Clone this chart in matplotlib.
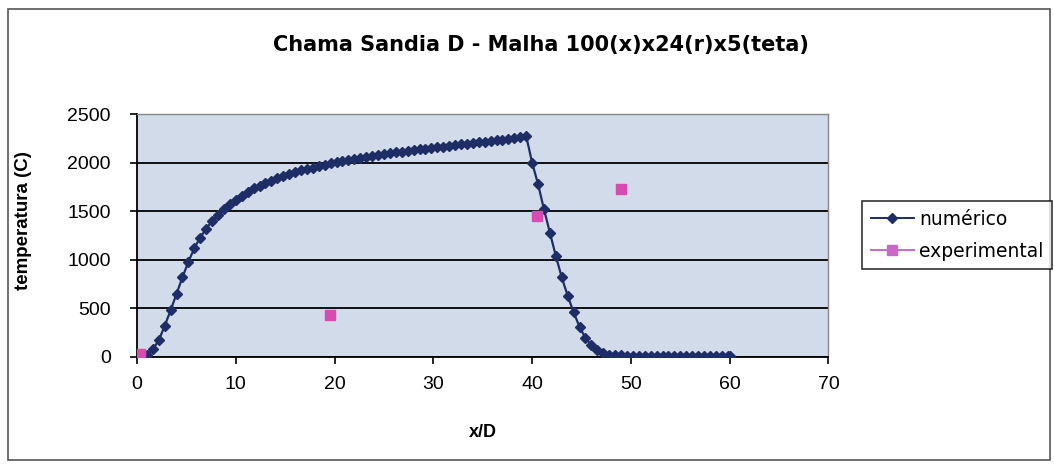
import matplotlib.pyplot as plt
from matplotlib.patches import Rectangle

# numerical solution along the axis (100 cells in x)
x_num = [1.0, 1.6, 2.2, 2.8, 3.4, 4.0, 4.6, 5.2, 5.8, 6.4,
         7.0, 7.6, 8.2, 8.8, 9.4, 10.0, 10.6, 11.2, 11.8, 12.4,
         13.0, 13.6, 14.2, 14.8, 15.4, 16.0, 16.6, 17.2, 17.8, 18.4,
         19.0, 19.6, 20.2, 20.8, 21.4, 22.0, 22.6, 23.2, 23.8, 24.4,
         25.0, 25.6, 26.2, 26.8, 27.4, 28.0, 28.6, 29.2, 29.8, 30.4,
         31.0, 31.6, 32.2, 32.8, 33.4, 34.0, 34.6, 35.2, 35.8, 36.4,
         37.0, 37.6, 38.2, 38.8, 39.4, 40.0, 40.6, 41.2, 41.8, 42.4,
         43.0, 43.6, 44.2, 44.8, 45.4, 46.0, 46.6, 47.2, 47.8, 48.4,
         49.0, 49.6, 50.2, 50.8, 51.4, 52.0, 52.6, 53.2, 53.8, 54.4,
         55.0, 55.6, 56.2, 56.8, 57.4, 58.0, 58.6, 59.2, 59.8, 60.0]
t_num = [20, 80, 170, 320, 480, 650, 820, 980, 1120, 1230,
         1320, 1400, 1460, 1520, 1570, 1620, 1660, 1700, 1735, 1765,
         1790, 1815, 1840, 1860, 1880, 1900, 1920, 1935, 1950, 1965,
         1980, 1995, 2005, 2015, 2027, 2038, 2050, 2060, 2070, 2080,
         2090, 2098, 2106, 2114, 2122, 2130, 2138, 2145, 2152, 2160,
         2167, 2174, 2181, 2188, 2195, 2202, 2209, 2216, 2223, 2230,
         2238, 2246, 2255, 2265, 2275, 2000, 1780, 1520, 1280, 1040,
         820, 630, 460, 310, 195, 120, 70, 40, 25, 18,
         15, 14, 13, 12, 12, 11, 11, 11, 10, 10,
         10, 10, 10, 10, 10, 10, 10, 10, 10, 10]

# measurements
x_exp = [0.3, 19.5, 40.5, 49.0]
t_exp = [30, 430, 1450, 1730]

xticks = [0, 10, 20, 30, 40, 50, 60, 70]
yticks = [0, 500, 1000, 1500, 2000, 2500]

plt.rcParams['font.family'] = ['Liberation Sans', 'DejaVu Sans']

fig = plt.figure(figsize=(10.54, 4.66), dpi=100)
fig.patch.set_facecolor('white')
fig.patches.append(Rectangle((0.008, 0.012), 0.988, 0.968, transform=fig.transFigure,
                             fill=False, edgecolor='#555555', linewidth=1.2))

ax = fig.add_axes([0.13, 0.234, 0.656, 0.521])
ax.set_facecolor('#d2dbea')

ax.plot(x_num, t_num, color='#1f2d66', linewidth=1.6, marker='D', markersize=5.5,
        zorder=3)
ax.plot(x_exp, t_exp, color='#d84bb0', linestyle='none', marker='s', markersize=6.5,
        zorder=4)

ax.set_xlim(0, 70)
ax.set_ylim(0, 2500)
ax.set_xticks(xticks)
ax.set_yticks(yticks)
ax.yaxis.grid(True, color='black', linewidth=1.3)
ax.set_axisbelow(True)

for side in ['top', 'right']:
    ax.spines[side].set_color('#888888')
    ax.spines[side].set_linewidth(1.0)
for side in ['left', 'bottom']:
    ax.spines[side].set_color('black')
    ax.spines[side].set_linewidth(1.3)

ax.tick_params(direction='out', length=5, width=1.2, labelsize=14, colors='black')
ax.tick_params(axis='y', pad=14)
ax.tick_params(axis='x', pad=9)

fig.suptitle('Chama Sandia D - Malha 100(x)x24(r)x5(teta)', x=0.513, y=0.925,
             fontsize=15, fontweight='bold', family=['DejaVu Sans'])
ax.set_xlabel('x/D', fontsize=13, fontweight='bold', labelpad=22)
ax.set_ylabel('temperatura (C)', fontsize=13.5, fontweight='bold')
ax.yaxis.set_label_coords(-0.152, 0.56)

# legend series: line + marker, as in the spreadsheet style
h_num, = ax.plot([], [], color='#1f2d66', marker='D', markersize=5.5, linewidth=1.4)
h_exp, = ax.plot([], [], color='#cc66c8', marker='s', markersize=6.5, linewidth=1.4)
leg = fig.legend([h_num, h_exp], ['numérico', 'experimental'],
                 loc='upper left', bbox_to_anchor=(0.818, 0.568),
                 prop={'family': 'DejaVu Sans', 'size': 13.5},
                 frameon=True, fancybox=False, edgecolor='black',
                 handlelength=2.3, handletextpad=0.3, borderpad=0.45, labelspacing=0.7,
                 borderaxespad=0)
leg.get_frame().set_linewidth(1.2)

fig.savefig('out.png', dpi=100)
